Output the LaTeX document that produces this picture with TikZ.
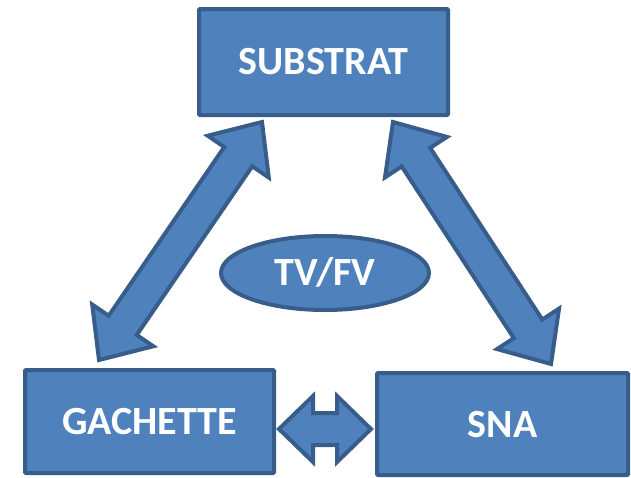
\documentclass[tikz,border=0pt]{standalone}
\usepackage{fontspec}
\setmainfont{Carlito}
\usetikzlibrary{calc}
\definecolor{boxfill}{HTML}{4F81BD}
\definecolor{boxline}{HTML}{385D8A}
\tikzset{
  blockshape/.style={fill=boxfill, draw=boxline, line width=4pt, line join=miter},
  boxtext/.style={text=white, font=\bfseries\fontsize{40}{42}\selectfont},
}
% #1,#2 tips; #3 head length; #4 half shaft; #5 half head
\newcommand{\blockdblarrow}[5]{%
  \coordinate (ha) at ($(#1)!#3!(#2)$);
  \coordinate (hb) at ($(#2)!#3!(#1)$);
  \draw[blockshape] (#1) -- ($(ha)!#5!90:(#2)$) -- ($(ha)!#4!90:(#2)$)
    -- ($(hb)!#4!-90:(#1)$) -- ($(hb)!#5!-90:(#1)$) -- (#2)
    -- ($(hb)!#5!90:(#1)$) -- ($(hb)!#4!90:(#1)$)
    -- ($(ha)!#4!-90:(#2)$) -- ($(ha)!#5!-90:(#2)$) -- cycle;
}
\begin{document}
\begin{tikzpicture}[x=1pt,y=-1pt]
\useasboundingbox (0,0) rectangle (631,477);
% boxes
\draw[blockshape, rounded corners=1pt] (199,9) rectangle (448,115);
\node[boxtext] (sub) at (323.5,62) {SUBSTRAT};
\draw[blockshape, rounded corners=1pt] (25,370) rectangle (274,473);
\node[boxtext] (gac) at (149.5,422) {GACHETTE};
\draw[blockshape, rounded corners=1pt] (377,373) rectangle (628,475);
\node[boxtext] (sna) at (502.5,425) {SNA};
% ellipse
\draw[blockshape] (325,273) ellipse [x radius=104, y radius=37];
\node[boxtext] (tv) at (325,272) {TV/FV};
% arrows
\coordinate (l1) at (99,360);
\coordinate (l2) at (262,122);
\blockdblarrow{l1}{l2}{42pt}{17pt}{37pt}
\coordinate (r1) at (393,122);
\coordinate (r2) at (551,364);
\blockdblarrow{r1}{r2}{42pt}{17pt}{37pt}
\coordinate (h1) at (279,429);
\coordinate (h2) at (371,429);
\blockdblarrow{h1}{h2}{34pt}{16pt}{33pt}
\end{tikzpicture}
\end{document}
